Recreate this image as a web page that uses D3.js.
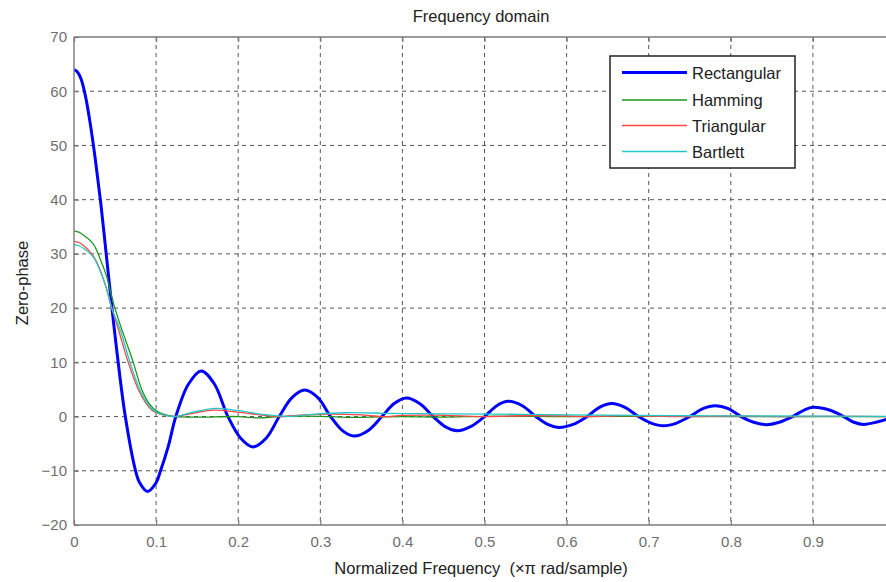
<!DOCTYPE html>
<html>
<head>
<meta charset="utf-8">
<script src="https://cdn.jsdelivr.net/npm/d3@7/dist/d3.min.js"></script>
<style>
  html, body { margin: 0; padding: 0; background: #ffffff; }
  svg { display: block; font-family: "Liberation Sans", Arial, sans-serif; }
</style>
</head>
<body>
<svg id="chart" width="886" height="582"></svg>
<script>
// Zero-phase responses of four windows (normalized frequency, ×π rad/sample)
const freqRect = [0, 0.004, 0.0085, 0.0134, 0.0195, 0.026, 0.0325, 0.0395, 0.0459, 0.052, 0.0625, 0.075, 0.08, 0.0895, 0.1, 0.105, 0.115, 0.124,
  0.1395, 0.155, 0.171, 0.1875, 0.203, 0.218, 0.234, 0.25, 0.2655, 0.281, 0.297, 0.3125, 0.327, 0.341, 0.358, 0.375,
  0.39, 0.405, 0.421, 0.4375, 0.452, 0.467, 0.483, 0.5, 0.515, 0.529, 0.546, 0.5625, 0.577, 0.59, 0.608, 0.625,
  0.64, 0.655, 0.671, 0.6875, 0.703, 0.718, 0.734, 0.75, 0.766, 0.781, 0.797, 0.8125, 0.828, 0.843, 0.859, 0.875,
  0.89, 0.9, 0.92, 0.9375, 0.95, 0.962, 0.978, 0.992];
const valRect = [64, 63.6, 62.3, 59.5, 54.3, 47.4, 39.5, 29.6, 20.5, 12.3, 0, -10, -12.2, -13.8, -12.2, -10.2, -5.4, 0,
  6.0, 8.4, 6.0, 0, -4.0, -5.6, -4.0, 0, 3.5, 4.9, 3.5, 0, -2.6, -3.6, -2.6, 0,
  2.4, 3.4, 2.4, 0, -1.85, -2.6, -1.85, 0, 2.0, 2.8, 2.0, 0, -1.45, -2.0, -1.45, 0,
  1.7, 2.4, 1.7, 0, -1.2, -1.7, -1.2, 0, 1.45, 2.0, 1.45, 0, -1.05, -1.5, -1.05, 0,
  1.25, 1.7, 1.2, 0, -1.05, -1.45, -1.0, -0.4];

const freqHamming = [0, 0.006, 0.012, 0.0236, 0.032, 0.0398, 0.0479, 0.055, 0.0642, 0.0722, 0.0825, 0.092, 0.1007, 0.112, 0.125,
  0.15, 0.2, 0.225, 0.25, 0.3, 0.34, 0.4, 0.45, 0.5, 0.6, 0.7, 0.8, 0.9, 0.99];
const valHamming = [34.2, 34.0, 33.4, 31.8, 29, 25.8, 21, 17.5, 13.5, 10, 5, 2.3, 1, 0.3, 0,
  -0.1, 0, -0.25, 0, 0.05, -0.15, 0, -0.1, 0.05, 0, 0.05, 0, 0, 0];

const freqTriang = [0, 0.006, 0.012, 0.0236, 0.032, 0.0398, 0.0442, 0.054, 0.0661, 0.0783, 0.088, 0.0966, 0.11, 0.122,
  0.145, 0.17, 0.2, 0.235, 0.25, 0.28, 0.31, 0.35, 0.375, 0.4, 0.44, 0.5, 0.55, 0.6, 0.625, 0.66, 0.7, 0.75, 0.8, 0.875, 0.93, 0.99];
const valTriang = [32.3, 32.1, 31.5, 29.6, 27, 23.5, 21, 16.1, 10, 5, 2.4, 1, 0.25, 0,
  0.6, 1.2, 0.8, 0.15, 0, 0.3, 0.45, 0.3, 0, 0.2, 0.25, 0, 0.15, 0.1, 0, 0.15, 0.1, 0, 0.1, 0, 0.05, 0];

const freqBartlett = [0, 0.006, 0.012, 0.0236, 0.032, 0.0398, 0.0458, 0.056, 0.0682, 0.08, 0.09, 0.098, 0.11, 0.123,
  0.145, 0.1725, 0.2, 0.235, 0.26, 0.29, 0.33, 0.38, 0.45, 0.55, 0.65, 0.75, 0.85, 0.99];
const valBartlett = [31.7, 31.5, 31, 29.4, 26.8, 23.5, 20, 16.1, 10, 5, 2.3, 1, 0.25, 0,
  0.8, 1.5, 1.1, 0.3, 0.05, 0.4, 0.7, 0.6, 0.5, 0.4, 0.25, 0.15, 0.1, 0.05];

const seriesNames = ["Rectangular", "Hamming", "Triangular", "Bartlett"];
const seriesColors = ["#0000ff", "#1a961a", "#ff4545", "#22c8c8"];
const seriesWidths = [3, 1.3, 1.3, 1.3];

const xTicks = [0, 0.1, 0.2, 0.3, 0.4, 0.5, 0.6, 0.7, 0.8, 0.9];
const yTicks = [-20, -10, 0, 10, 20, 30, 40, 50, 60, 70];

const svg = d3.select("#chart");
const plot = { left: 74, right: 895, top: 37, bottom: 525 };

const x = d3.scaleLinear().domain([0, 1]).range([plot.left, plot.right]);
const y = d3.scaleLinear().domain([-20, 70]).range([plot.bottom, plot.top]);

// Dashed grid
const grid = svg.append("g").attr("stroke", "#555555").attr("stroke-width", 1)
  .attr("stroke-dasharray", "4,4");
grid.selectAll("line.vx").data(xTicks.filter(d => d > 0)).join("line")
  .attr("x1", d => x(d)).attr("x2", d => x(d))
  .attr("y1", plot.top).attr("y2", plot.bottom);
grid.selectAll("line.hy").data(yTicks.filter(d => d > -20 && d < 70)).join("line")
  .attr("x1", plot.left).attr("x2", plot.right)
  .attr("y1", d => y(d)).attr("y2", d => y(d));

// Curves
svg.append("clipPath").attr("id", "clip").append("rect")
  .attr("x", plot.left).attr("y", plot.top)
  .attr("width", plot.right - plot.left).attr("height", plot.bottom - plot.top);

const seriesData = [
  d3.zip(freqRect, valRect),
  d3.zip(freqHamming, valHamming),
  d3.zip(freqTriang, valTriang),
  d3.zip(freqBartlett, valBartlett)
];
const line = d3.line().x(d => x(d[0])).y(d => y(d[1])).curve(d3.curveCatmullRom.alpha(0.5));
const curves = svg.append("g").attr("clip-path", "url(#clip)");
seriesData.forEach((data, i) => {
  curves.append("path").datum(data)
    .attr("fill", "none")
    .attr("stroke", seriesColors[i])
    .attr("stroke-width", seriesWidths[i])
    .attr("stroke-linejoin", "round")
    .attr("d", line);
});

// Axes with inward ticks
const axisColor = "#7a7a7a";
const xAxis = svg.append("g").attr("transform", `translate(0,${plot.bottom})`)
  .call(d3.axisBottom(x).tickValues(xTicks).tickFormat(d3.format("")).tickSizeInner(-5).tickSizeOuter(0).tickPadding(11));
const xTop = svg.append("g").attr("transform", `translate(0,${plot.top})`)
  .call(d3.axisTop(x).tickValues(xTicks).tickFormat("").tickSizeInner(-5).tickSizeOuter(0));
const yAxis = svg.append("g").attr("transform", `translate(${plot.left},0)`)
  .call(d3.axisLeft(y).tickValues(yTicks).tickFormat(d3.format("d")).tickSizeInner(-5).tickSizeOuter(0).tickPadding(7));
[xAxis, xTop, yAxis].forEach(g => {
  g.select(".domain").remove();
  g.selectAll(".tick line").attr("stroke", axisColor).attr("stroke-width", 1.2);
  g.selectAll(".tick text").attr("fill", "#6e6e6e").attr("font-size", 15)
    .attr("font-family", "Liberation Sans, Arial, sans-serif");
});

// Plot box edges
const box = svg.append("g").attr("stroke", axisColor).attr("stroke-width", 1.4);
box.append("line").attr("x1", plot.left).attr("x2", plot.left).attr("y1", plot.top).attr("y2", plot.bottom);
box.append("line").attr("x1", plot.left).attr("x2", plot.right).attr("y1", plot.bottom).attr("y2", plot.bottom);
box.append("line").attr("x1", plot.left).attr("x2", plot.right).attr("y1", plot.top).attr("y2", plot.top);
box.append("line").attr("x1", plot.right).attr("x2", plot.right).attr("y1", plot.top).attr("y2", plot.bottom);

// Titles
svg.append("text").attr("x", 481).attr("y", 22).attr("text-anchor", "middle")
  .attr("font-size", 16.5).attr("fill", "#222").text("Frequency domain");
svg.append("text").attr("x", 481).attr("y", 574).attr("text-anchor", "middle")
  .style("white-space", "pre")
  .attr("font-size", 16.5).attr("fill", "#222").text("Normalized Frequency  (×π rad/sample)");
svg.append("text").attr("transform", "translate(28,283) rotate(-90)").attr("text-anchor", "middle")
  .attr("font-size", 16.5).attr("fill", "#222").text("Zero-phase");

// Legend
const legend = svg.append("g");
legend.append("rect").attr("x", 610).attr("y", 56).attr("width", 185).attr("height", 112)
  .attr("fill", "#ffffff").attr("stroke", "#222").attr("stroke-width", 1.5);
const rowY = [72.5, 100, 125.5, 151.5];
seriesNames.forEach((name, i) => {
  legend.append("line").attr("x1", 622).attr("x2", 687).attr("y1", rowY[i]).attr("y2", rowY[i])
    .attr("stroke", seriesColors[i]).attr("stroke-width", seriesWidths[i]);
  legend.append("text").attr("x", 692).attr("y", rowY[i] + 6).attr("font-size", 16.5)
    .attr("fill", "#222").text(name);
});
</script>
</body>
</html>
